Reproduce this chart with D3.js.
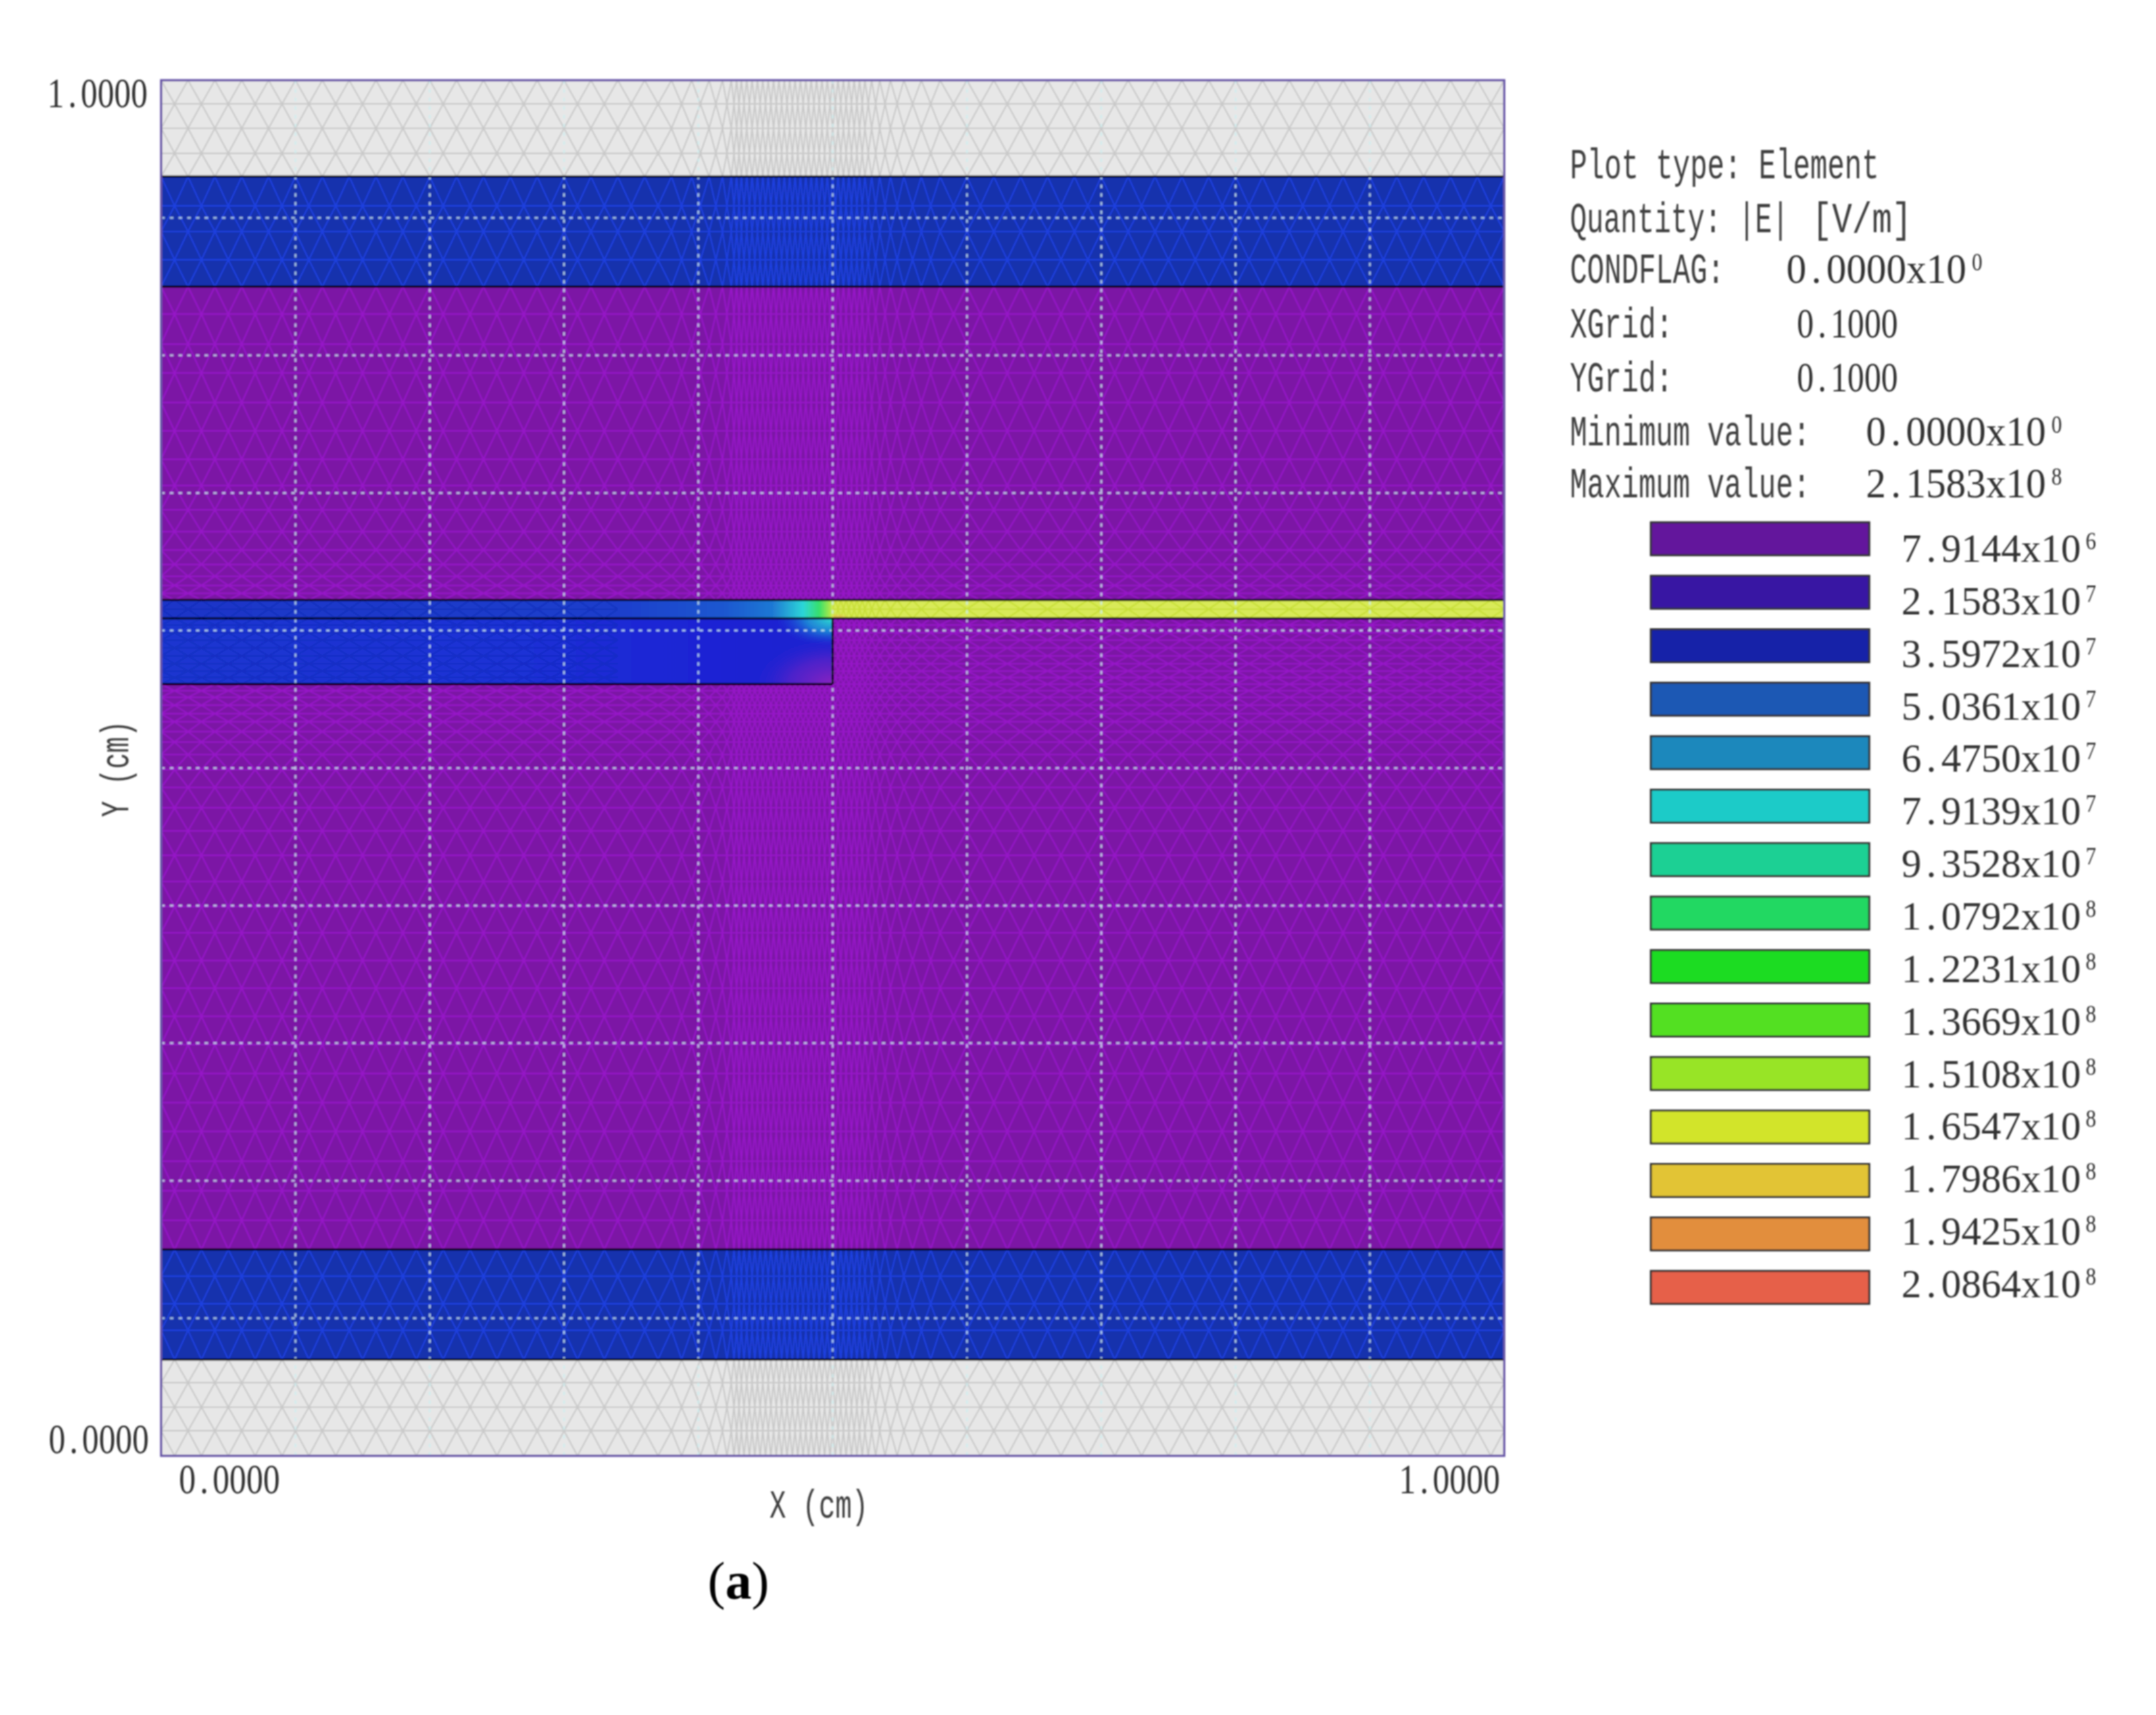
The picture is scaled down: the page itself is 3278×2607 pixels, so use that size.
<!DOCTYPE html>
<html>
	<head>
		<meta charset="utf-8" />
		<title>Element plot of |E|</title>
		<script src="https://d3js.org/d3.v7.min.js"></script>
		<style>
			html, body { margin: 0; background: #fff; }
			svg { display: block; }
		</style>
	</head>
	<body>
		<svg width="3278" height="2607"></svg>
		<script>
			// material regions, in cm
			const regionX0 = [0, 0, 0, 0, 0, 0, 0.5, 0];
			const regionX1 = [1, 1, 1, 1, 1, 0.5, 1, 0.5];
			const regionTop = [1, 0.93, 0.85, 0.15, 0.07, 0.6222, 0.6222, 0.6088];
			const regionBottom = [0.93, 0.85, 0.15, 0.07, 0, 0.6088, 0.6088, 0.561];
			const regionFill = ["#e7e7e7", "#1731ad", "#7c18a5", "#1731ad", "#e7e7e7", "url(#bandLeft)", "#d8ea58", "url(#blockFill)"];
			const regionMesh = ["#c9c9c9", "#1f40e0", "#9619c8", "#1f40e0", "#c9c9c9", "#1628b0", "#c4dc30", "#1628b0"];
			const regionMeshOpacity = [1, 1, 1, 1, 1, 0.45, 0.8, 0.4];
			// the mesh does not show through near the step
			const regionMeshEnd = [1, 1, 1, 1, 1, 0.34, 1, 0.34];

			// mesh rows and columns, in cm
			const meshRows = [1, 0.9828, 0.9651, 0.9469, 0.93, 0.9087, 0.89, 0.8695, 0.85, 0.83, 0.8082, 0.7872,
				0.7657, 0.7451, 0.7245, 0.7054, 0.6877, 0.6719, 0.6585, 0.648, 0.6394, 0.6327, 0.627, 0.6222,
				0.6155, 0.6088, 0.604, 0.5983, 0.593, 0.5873, 0.5815, 0.5758, 0.5705, 0.5658, 0.561, 0.5562,
				0.5514, 0.5457, 0.5395, 0.5337, 0.5265, 0.5189, 0.5098, 0.4988, 0.4859, 0.4711, 0.4543, 0.4366,
				0.4175, 0.3993, 0.3802, 0.3601, 0.34, 0.3195, 0.2989, 0.2779, 0.2568, 0.2358, 0.2142, 0.1927,
				0.1712, 0.15, 0.1306, 0.1105, 0.0913, 0.07, 0.0531, 0.0354, 0.0182, 0];
			const meshCols = [0, 0.02, 0.04, 0.06, 0.08, 0.1, 0.12, 0.14, 0.16, 0.18, 0.2, 0.22, 0.24, 0.26, 0.28,
				0.3, 0.32, 0.34, 0.36, 0.38, 0.395, 0.408, 0.418, 0.4245, 0.4285, 0.432, 0.436, 0.44, 0.444, 0.448,
				0.452, 0.456, 0.46, 0.464, 0.468, 0.472, 0.476, 0.48, 0.484, 0.488, 0.492, 0.496, 0.5, 0.504, 0.508,
				0.512, 0.516, 0.52, 0.524, 0.529, 0.535, 0.543, 0.553, 0.566, 0.58, 0.6, 0.62, 0.64, 0.66, 0.68,
				0.7, 0.72, 0.74, 0.76, 0.78, 0.8, 0.82, 0.84, 0.86, 0.88, 0.9, 0.92, 0.94, 0.96, 0.98, 1];

			const xGrid = [0.1, 0.2, 0.3, 0.4, 0.5, 0.6, 0.7, 0.8, 0.9];
			const yGrid = [0.1, 0.2, 0.3, 0.4, 0.5, 0.6, 0.7, 0.8, 0.9];

			// left band colour along x (cm)
			const bandStops = [0, 0.34, 0.42, 0.455, 0.478, 0.49, 0.498, 0.507];
			const bandColors = ["#1a35c8", "#1a3ecc", "#1c58d0", "#1f78d4", "#2cd6d8", "#38e06c", "#a8e84a", "#d8ea58"];

			// outlines of the conductors, [x0, y0, x1, y1] in cm
			const outlines = [
				[0, 0.93, 1, 0.93], [0, 0.85, 1, 0.85], [0, 0.15, 1, 0.15], [0, 0.07, 1, 0.07],
				[0, 0.6222, 1, 0.6222], [0, 0.6088, 1, 0.6088], [0, 0.561, 0.5, 0.561], [0.5, 0.6088, 0.5, 0.561]
			];

			const infoLabels = ["Plot type: Element", "Quantity: |E|", "CONDFLAG:", "XGrid:", "YGrid:", "Minimum value:", "Maximum value:"];
			const infoValues = ["", "", "0.0000x10", "0.1000", "0.1000", "0.0000x10", "2.1583x10"];
			const infoExps = ["", "", "0", "", "", "0", "8"];
			const infoValueX = [0, 0, 2716, 2732, 2732, 2837, 2837];
			const infoBaselines = [271, 353, 430, 513, 595, 677, 756];

			const legendValues = ["7.9144", "2.1583", "3.5972", "5.0361", "6.4750", "7.9139", "9.3528", "1.0792",
				"1.2231", "1.3669", "1.5108", "1.6547", "1.7986", "1.9425", "2.0864"];
			const legendExps = [6, 7, 7, 7, 7, 7, 7, 8, 8, 8, 8, 8, 8, 8, 8];
			const legendColors = ["#64169c", "#3815a3", "#1820a8", "#1c58b4", "#1c88bc", "#1ccbc8", "#1dd094", "#20d862",
				"#1edc24", "#52e020", "#98e428", "#d2e42c", "#e2c434", "#e28e3c", "#e66048"];

			const svg = d3.select("svg");
			const x = d3.scaleLinear().domain([0, 1]).range([245, 2287]);
			const y = d3.scaleLinear().domain([0, 1]).range([2213, 122]);

			const defs = svg.append("defs");
			defs.append("filter").attr("id", "soft")
				.attr("filterUnits", "userSpaceOnUse")
				.attr("x", 0).attr("y", 0).attr("width", 3278).attr("height", 2607)
				.append("feGaussianBlur").attr("stdDeviation", 0.9);

			const bandGrad = defs.append("linearGradient").attr("id", "bandLeft")
				.attr("gradientUnits", "userSpaceOnUse")
				.attr("x1", x(0)).attr("x2", x(0.5)).attr("y1", 0).attr("y2", 0);
			bandGrad.selectAll("stop").data(bandStops).join("stop")
				.attr("offset", (d) => d / 0.5 > 1 ? 1 : d / 0.5)
				.attr("stop-color", (d, i) => bandColors[i]);

			const blockGrad = defs.append("linearGradient").attr("id", "blockFill");
			blockGrad.selectAll("stop").data([0, 0.55, 0.8, 1]).join("stop")
				.attr("offset", (d) => d)
				.attr("stop-color", (d, i) => ["#1a36d0", "#1a30d6", "#1a24d4", "#1e20d0"][i]);

			// warm and cool spots around the corner of the step
			const cyanSpot = defs.append("radialGradient").attr("id", "cyanSpot");
			cyanSpot.append("stop").attr("offset", 0).attr("stop-color", "#2fe0d0");
			cyanSpot.append("stop").attr("offset", 0.45).attr("stop-color", "#1f9ad8").attr("stop-opacity", 0.8);
			cyanSpot.append("stop").attr("offset", 1).attr("stop-color", "#1a30d6").attr("stop-opacity", 0);
			const purpleSpot = defs.append("radialGradient").attr("id", "purpleSpot");
			purpleSpot.append("stop").attr("offset", 0).attr("stop-color", "#8a22c0");
			purpleSpot.append("stop").attr("offset", 0.5).attr("stop-color", "#5c22c8").attr("stop-opacity", 0.75);
			purpleSpot.append("stop").attr("offset", 1).attr("stop-color", "#1a24d4").attr("stop-opacity", 0);
			const orangeSpot = defs.append("radialGradient").attr("id", "orangeSpot");
			orangeSpot.append("stop").attr("offset", 0).attr("stop-color", "#f09a50");
			orangeSpot.append("stop").attr("offset", 1).attr("stop-color", "#d8ea58").attr("stop-opacity", 0);

			const chart = svg.append("g").attr("filter", "url(#soft)");

			// staggered triangles: odd rows sit halfway between the columns
			const meshMids = d3.pairs(meshCols).map(([a, b]) => (a + b) / 2);
			function meshPath(top, bottom) {
				const p = d3.path();
				meshRows.forEach((row, i) => {
					if (row > top + 1e-6 || row < bottom - 1e-6) return;
					p.moveTo(x(0), y(row));
					p.lineTo(x(1), y(row));
					const next = meshRows[i + 1];
					if (next === undefined || next < bottom - 1e-6) return;
					const even = i % 2 === 0;
					meshCols.forEach((c, j) => {
						[meshMids[j - 1], meshMids[j]].forEach((m) => {
							if (m === undefined) return;
							p.moveTo(x(even ? c : m), y(row));
							p.lineTo(x(even ? m : c), y(next));
						});
					});
				});
				return p.toString();
			}

			regionFill.forEach((fill, i) => {
				const rx = x(regionX0[i]);
				const ry = y(regionTop[i]);
				const rw = x(regionX1[i]) - rx;
				const rh = y(regionBottom[i]) - ry;
				defs.append("clipPath").attr("id", "clip" + i)
					.append("rect").attr("x", rx).attr("y", ry).attr("width", rw).attr("height", rh);
				defs.append("clipPath").attr("id", "meshClip" + i)
					.append("rect").attr("x", rx).attr("y", ry).attr("width", x(regionMeshEnd[i]) - rx).attr("height", rh);
				const g = chart.append("g").attr("clip-path", `url(#clip${i})`);
				g.append("rect").attr("x", rx).attr("y", ry).attr("width", rw).attr("height", rh).attr("fill", fill);
				g.append("path")
					.attr("d", meshPath(regionTop[i], regionBottom[i]))
					.attr("clip-path", `url(#meshClip${i})`)
					.attr("fill", "none")
					.attr("stroke", regionMesh[i])
					.attr("stroke-opacity", regionMeshOpacity[i])
					.attr("stroke-width", 2.2);
				if (i === 7) {
					g.append("ellipse").attr("cx", x(0.5)).attr("cy", y(0.6088))
						.attr("rx", 90).attr("ry", 45).attr("fill", "url(#cyanSpot)");
					g.append("ellipse").attr("cx", x(0.5)).attr("cy", y(0.561))
						.attr("rx", 130).attr("ry", 75).attr("fill", "url(#purpleSpot)");
				}
				if (i === 6) {
					g.append("ellipse").attr("cx", x(0.5) + 8).attr("cy", y(0.6088))
						.attr("rx", 22).attr("ry", 9).attr("fill", "url(#orangeSpot)");
				}
			});

			// dotted grid
			const gridStyle = (sel) => sel.attr("stroke", "#cfeef0").attr("stroke-opacity", 0.72).attr("fill", "none");
			chart.append("g").selectAll("line").data(xGrid).join("line")
				.attr("x1", (d) => x(d)).attr("x2", (d) => x(d))
				.attr("y1", y(1)).attr("y2", y(0))
				.attr("stroke-width", 3.2)
				.attr("stroke-dasharray", "5.5 7.7")
				.call(gridStyle);
			chart.append("g").selectAll("line").data(yGrid).join("line")
				.attr("x1", x(0)).attr("x2", x(1))
				.attr("y1", (d) => y(d)).attr("y2", (d) => y(d))
				.attr("stroke-width", 3.2)
				.attr("stroke-dasharray", "5.5 7.7")
				.call(gridStyle);

			chart.append("g").selectAll("line").data(outlines).join("line")
				.attr("x1", (d) => x(d[0])).attr("y1", (d) => y(d[1]))
				.attr("x2", (d) => x(d[2])).attr("y2", (d) => y(d[3]))
				.attr("stroke", "#050510")
				.attr("stroke-width", 3.2);

			chart.append("rect")
				.attr("x", x(0)).attr("y", y(1))
				.attr("width", x(1) - x(0)).attr("height", y(0) - y(1))
				.attr("fill", "none").attr("stroke", "#6a58a8").attr("stroke-width", 3.4);

			// squeezed monospace for words
			function label(text, px, py, charWidth, size, turn) {
				const squeeze = charWidth / (size * 0.6);
				return chart.append("text")
					.attr("transform", `translate(${px},${py}) ${turn ? "rotate(-90) " : ""}scale(${squeeze},1)`)
					.attr("font-family", "'Liberation Mono', monospace")
					.attr("font-size", size)
					.attr("fill", "#3f3f3f")
					.style("white-space", "pre")
					.text(text);
			}

			// numbers: plain-zero serif digits, one glyph per fixed-width cell
			function number(text, px, py, pitch, size) {
				const cell = size * 0.5;
				return chart.append("text")
					.attr("transform", `translate(${px},${py}) scale(${pitch / cell},1)`)
					.attr("x", Array.from(text, (c, i) => (i + 0.5) * cell).join(" "))
					.attr("y", 0)
					.attr("text-anchor", "middle")
					.attr("font-family", "'Liberation Serif', serif")
					.attr("font-size", size)
					.attr("fill", "#333")
					.text(text);
			}

			number("1.0000", x(0) - 173, y(1) + 41, 25.4, 63);
			number("0.0000", x(0) - 171, y(0) - 4, 25.4, 63);
			number("0.0000", x(0) + 27, 2270, 25.6, 63);
			number("1.0000", x(1) - 160, 2270, 25.6, 63);
			label("X (cm)", 1170, 2307, 25, 62);
			label("Y (cm)", 195, 1242, 24.4, 62, true);

			infoLabels.forEach((t, i) => {
				label(t, 2387, infoBaselines[i], i === 1 ? 25.6 : 26.1, 64);
				if (infoValues[i]) {
					number(infoValues[i], infoValueX[i], infoBaselines[i], infoExps[i] ? 30.4 : 25.6, 63);
				}
				if (infoExps[i]) {
					number(infoExps[i], infoValueX[i] + 282, infoBaselines[i] - 19, 16, 38);
				}
			});
			label("[V/m]", 2755, infoBaselines[1], 30.4, 64);

			// colour key
			const legendBand = d3.scaleBand().domain(legendValues.map((d, i) => i))
				.range([794, 1982]).paddingInner(0.385);
			const legendText = d3.scalePoint().domain(legendValues.map((d, i) => i)).range([854, 1972]);

			chart.append("g").selectAll("rect").data(legendColors).join("rect")
				.attr("x", 2510).attr("width", 332)
				.attr("y", (d, i) => legendBand(i))
				.attr("height", legendBand.bandwidth())
				.attr("fill", (d) => d)
				.attr("stroke", "#333")
				.attr("stroke-width", 3);

			legendValues.forEach((v, i) => {
				number(v + "x10", 2891, legendText(i), 30.3, 62);
				number(String(legendExps[i]), 3171, legendText(i) - 19, 16, 38);
			});

			const panel = chart.append("text")
				.attr("x", 1076).attr("y", 2430)
				.attr("font-family", "'Liberation Serif', serif")
				.attr("font-size", 80)
				.attr("fill", "#000");
			panel.append("tspan").text("(");
			panel.append("tspan").attr("font-weight", "bold").text("a");
			panel.append("tspan").text(")");
		</script>
	</body>
</html>
